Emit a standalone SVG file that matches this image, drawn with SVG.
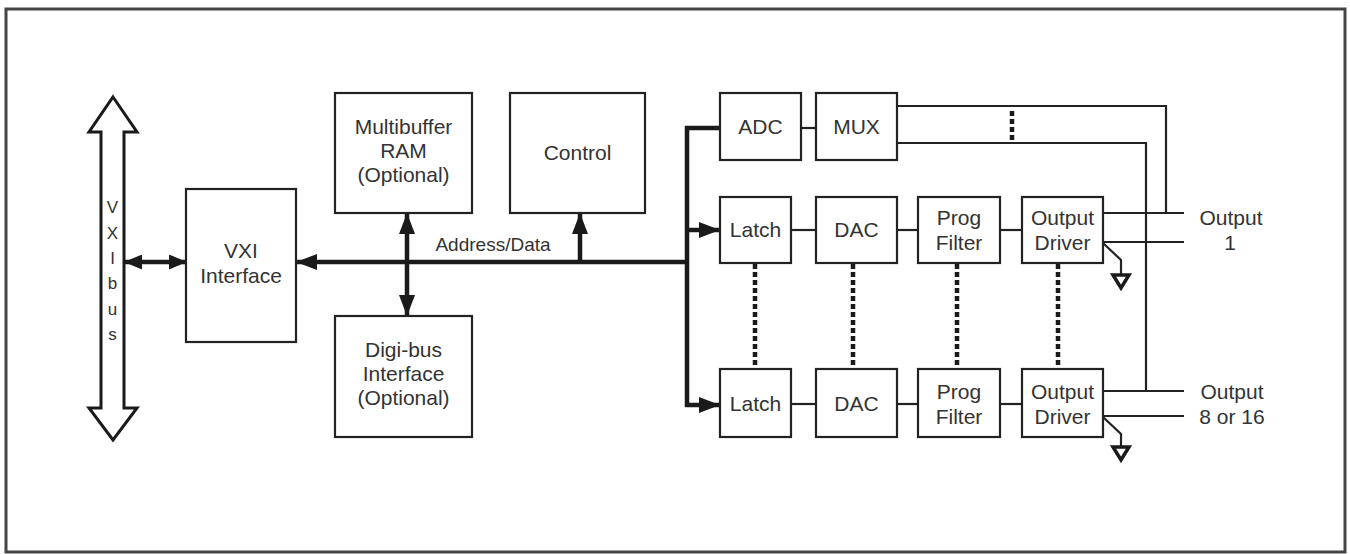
<svg xmlns="http://www.w3.org/2000/svg" width="1350" height="554" viewBox="0 0 1350 554">
<style>
.box{fill:#fff;stroke:#222;stroke-width:2.2}
.t{font-family:"Liberation Sans",Arial,sans-serif;font-size:21px;fill:#333;text-anchor:middle}
.s{font-family:"Liberation Sans",Arial,sans-serif;font-size:17px;fill:#333;text-anchor:middle}
.bus{stroke:#1a1a1a;stroke-width:4.5;fill:none}
.thin{stroke:#222;stroke-width:2.2;fill:none}
.dot{stroke:#1a1a1a;stroke-width:4.5;fill:none;stroke-dasharray:5 3}
.gnd{stroke:#1a1a1a;stroke-width:3.5;fill:#fff;stroke-linejoin:miter}
</style>
<defs>
<marker id="ah" viewBox="0 0 18 15" refX="17" refY="7.5" markerWidth="18" markerHeight="15" markerUnits="userSpaceOnUse" orient="auto-start-reverse">
<path d="M0,0 L18,7.5 L0,15 z" fill="#1a1a1a"/>
</marker>
<marker id="ah2" viewBox="0 0 21 16" refX="20" refY="8" markerWidth="21" markerHeight="16" markerUnits="userSpaceOnUse" orient="auto-start-reverse">
<path d="M0,0 L21,8 L0,16 z" fill="#1a1a1a"/>
</marker>
</defs>
<rect x="6" y="9" width="1339" height="543" fill="#fff" stroke="#444" stroke-width="3"/>

<g id="vxibus">
<polygon points="113,97 137,132 124,132 124,408 137,408 113,440 89,408 101,408 101,132 89,132" fill="#fff" stroke="#1a1a1a" stroke-width="3" stroke-linejoin="miter"/>
<text class="s" x="112.5" y="213">V</text>
<text class="s" x="112.5" y="239">X</text>
<text class="s" x="112.5" y="264">I</text>
<text class="s" x="112.5" y="289">b</text>
<text class="s" x="112.5" y="315">u</text>
<text class="s" x="112.5" y="340">s</text>
</g>

<g id="connectors">
<line class="bus" x1="125" y1="262" x2="186" y2="262" marker-start="url(#ah)" marker-end="url(#ah)"/>
<line class="bus" x1="687" y1="262" x2="297" y2="262" marker-end="url(#ah2)"/>
<line class="bus" x1="407" y1="214" x2="407" y2="315" marker-start="url(#ah2)" marker-end="url(#ah2)"/>
<line class="bus" x1="580" y1="262" x2="580" y2="214" marker-end="url(#ah2)"/>
<polyline class="bus" points="720,128 687,128 687,405 719,405" marker-end="url(#ah2)"/>
<line class="bus" x1="687" y1="230" x2="719" y2="230" marker-end="url(#ah2)"/>
<line class="thin" x1="801" y1="128" x2="816" y2="128"/>
<line class="thin" x1="791" y1="230" x2="816" y2="230"/>
<line class="thin" x1="897" y1="230" x2="918" y2="230"/>
<line class="thin" x1="1000" y1="230" x2="1022" y2="230"/>
<line class="thin" x1="791" y1="404" x2="816" y2="404"/>
<line class="thin" x1="897" y1="404" x2="918" y2="404"/>
<line class="thin" x1="1000" y1="404" x2="1022" y2="404"/>
<polyline class="thin" points="897,106 1166,106 1166,213"/>
<polyline class="thin" points="897,143 1146,143 1146,391"/>
<line class="thin" x1="1103" y1="213" x2="1184" y2="213"/>
<line class="thin" x1="1103" y1="242" x2="1184" y2="242"/>
<line class="thin" x1="1103" y1="391" x2="1184" y2="391"/>
<line class="thin" x1="1103" y1="416" x2="1184" y2="416"/>
<line class="dot" x1="1012" y1="111" x2="1012" y2="141"/>
<line class="dot" x1="755" y1="264" x2="755" y2="369"/>
<line class="dot" x1="853" y1="264" x2="853" y2="369"/>
<line class="dot" x1="957" y1="264" x2="957" y2="369"/>
<line class="dot" x1="1058" y1="264" x2="1058" y2="369"/>
<g id="ground1">
<polyline class="thin" points="1103,243 1121,260 1121,275"/>
<polygon class="gnd" points="1113,275 1129,275 1121,288"/>
</g>
<g id="ground2">
<polyline class="thin" points="1103,417 1121,434 1121,447"/>
<polygon class="gnd" points="1113,447 1129,447 1121,460"/>
</g>
</g>

<g id="vxi"><rect class="box" x="186" y="189" width="110" height="153"/>
<text class="t" x="241" y="258">VXI</text><text class="t" x="241" y="283">Interface</text></g>
<g id="multibuffer"><rect class="box" x="335" y="93" width="137" height="120"/>
<text class="t" x="403.5" y="134">Multibuffer</text><text class="t" x="403.5" y="158">RAM</text><text class="t" x="403.5" y="182">(Optional)</text></g>
<g id="control"><rect class="box" x="510" y="93" width="135" height="120"/>
<text class="t" x="577.5" y="160">Control</text></g>
<g id="digibus"><rect class="box" x="335" y="316" width="137" height="121"/>
<text class="t" x="403.5" y="357">Digi-bus</text><text class="t" x="403.5" y="381">Interface</text><text class="t" x="403.5" y="405">(Optional)</text></g>
<text class="s" x="493" y="251" style="font-size:19px">Address/Data</text>

<g id="adc"><rect class="box" x="720" y="93" width="81" height="67"/><text class="t" x="760.5" y="134">ADC</text></g>
<g id="mux"><rect class="box" x="816" y="93" width="81" height="67"/><text class="t" x="856.5" y="134">MUX</text></g>

<g id="latch1"><rect class="box" x="720" y="197" width="71" height="66"/><text class="t" x="755.5" y="237">Latch</text></g>
<g id="dac1"><rect class="box" x="816" y="197" width="81" height="66"/><text class="t" x="856.5" y="237">DAC</text></g>
<g id="filter1"><rect class="box" x="918" y="197" width="82" height="66"/><text class="t" x="959" y="225">Prog</text><text class="t" x="959" y="250">Filter</text></g>
<g id="driver1"><rect class="box" x="1022" y="197" width="81" height="66"/><text class="t" x="1062.5" y="225">Output</text><text class="t" x="1062.5" y="250">Driver</text></g>

<g id="latch2"><rect class="box" x="720" y="369" width="71" height="68"/><text class="t" x="755.5" y="411">Latch</text></g>
<g id="dac2"><rect class="box" x="816" y="369" width="81" height="68"/><text class="t" x="856.5" y="411">DAC</text></g>
<g id="filter2"><rect class="box" x="918" y="369" width="82" height="68"/><text class="t" x="959" y="399">Prog</text><text class="t" x="959" y="424">Filter</text></g>
<g id="driver2"><rect class="box" x="1022" y="369" width="81" height="68"/><text class="t" x="1062.5" y="399">Output</text><text class="t" x="1062.5" y="424">Driver</text></g>

<g id="out1"><text class="t" x="1231" y="225">Output</text><text class="t" x="1230" y="250">1</text></g>
<g id="out2"><text class="t" x="1232" y="399">Output</text><text class="t" x="1232" y="424">8 or 16</text></g>
</svg>
